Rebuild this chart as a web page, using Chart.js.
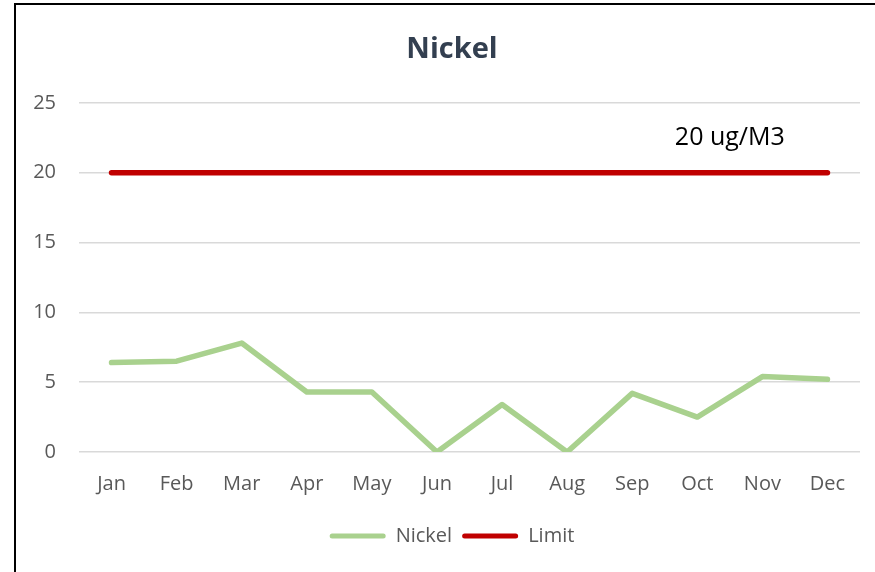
<!DOCTYPE html>
<html>
<head>
<meta charset="utf-8">
<script src="https://cdn.jsdelivr.net/npm/chart.js@4.4.1/dist/chart.umd.min.js"></script>
<style>
    html, body { margin: 0; padding: 0; background: #fff; }
    body { width: 875px; height: 572px; overflow: hidden; position: relative; }
    #frame {
        position: absolute; left: 14px; top: 3px;
        width: 872px; height: 567px;
        border-top: 2px solid #000; border-left: 2px solid #000;
    }
    #wrap { width: 872px; height: 567px; }
</style>
</head>
<body>
<div id="frame"><div id="wrap"><canvas id="nickelChart"></canvas></div></div>
<script>
// Chart data
const months = ['Jan', 'Feb', 'Mar', 'Apr', 'May', 'Jun', 'Jul', 'Aug', 'Sep', 'Oct', 'Nov', 'Dec'];
const nickelValues = [6.4, 6.5, 7.8, 4.3, 4.3, 0, 3.4, 0, 4.2, 2.5, 5.4, 5.2];
const limitValues = [20, 20, 20, 20, 20, 20, 20, 20, 20, 20, 20, 20];
const yTicks = [0, 5, 10, 15, 20, 25];
const limitLabel = '20 ug/M3';
const limitLabelAt = { x: 9.5, y: 22.5 }; // between Oct and Nov, above the limit line

const FONT = "'Open Sans', 'Noto Sans', sans-serif";

// Text label for the limit, placed through the chart scales
const limitLabelPlugin = {
    id: 'limitLabel',
    afterDatasetsDraw(chart) {
        const { ctx, scales } = chart;
        const x = scales.x.getPixelForValue(limitLabelAt.x);
        const y = scales.y.getPixelForValue(limitLabelAt.y);
        ctx.save();
        ctx.font = `25px ${FONT}`;
        ctx.fillStyle = '#000000';
        ctx.textAlign = 'center';
        ctx.textBaseline = 'middle';
        ctx.fillText(limitLabel, x, y);
        ctx.restore();
    }
};

const ctx = document.getElementById('nickelChart').getContext('2d');

new Chart(ctx, {
    type: 'line',
    data: {
        labels: months,
        datasets: [
            {
                label: 'Nickel',
                data: nickelValues,
                borderColor: '#A9D18E',
                backgroundColor: '#A9D18E',
                borderWidth: 5.5,
                borderCapStyle: 'round',
                borderJoinStyle: 'round',
                fill: false,
                tension: 0,
                pointRadius: 0,
                pointHoverRadius: 0
            },
            {
                label: 'Limit',
                data: limitValues,
                borderColor: '#C00000',
                backgroundColor: '#C00000',
                borderWidth: 5.5,
                borderCapStyle: 'round',
                fill: false,
                tension: 0,
                pointRadius: 0,
                pointHoverRadius: 0
            }
        ]
    },
    options: {
        responsive: true,
        maintainAspectRatio: false,
        animation: false,
        layout: {
            padding: { left: 0, right: 0, top: 0, bottom: 16 }
        },
        scales: {
            x: {
                offset: true,
                grid: { display: false, drawTicks: false },
                border: { display: false },
                ticks: {
                    color: '#595959',
                    font: { family: FONT, size: 20 },
                    padding: 20,
                    maxRotation: 0
                }
            },
            y: {
                min: 0,
                max: 25,
                afterBuildTicks: scale => {
                    scale.ticks = yTicks.map(v => ({ value: v }));
                },
                afterFit: scale => {
                    scale.width = 63;
                },
                grid: {
                    color: '#D9D9D9',
                    lineWidth: 1.5,
                    drawTicks: false
                },
                border: { display: false },
                ticks: {
                    color: '#595959',
                    font: { family: FONT, size: 20 },
                    padding: 23
                }
            },
            // empty spacer on the right so title and legend stay centred on the whole frame
            yRight: {
                position: 'right',
                min: 0,
                max: 25,
                afterFit: scale => {
                    scale.width = 28;
                },
                grid: { display: false, drawTicks: false },
                border: { display: false },
                ticks: { display: false }
            }
        },
        plugins: {
            title: {
                display: true,
                text: 'Nickel',
                color: '#333F50',
                font: { family: FONT, size: 29, weight: 'bold' },
                padding: { top: 27, bottom: 36 }
            },
            legend: {
                display: true,
                position: 'bottom',
                labels: {
                    color: '#595959',
                    font: { family: FONT, size: 20 },
                    boxWidth: 56,
                    boxHeight: 5,
                    padding: 10,
                    useBorderRadius: true,
                    borderRadius: 2.5,
                    generateLabels: chart => {
                        return Chart.defaults.plugins.legend.labels.generateLabels(chart).map(item => {
                            item.lineWidth = 0;
                            return item;
                        });
                    }
                }
            },
            tooltip: { enabled: false }
        }
    },
    plugins: [limitLabelPlugin]
});
</script>
</body>
</html>
